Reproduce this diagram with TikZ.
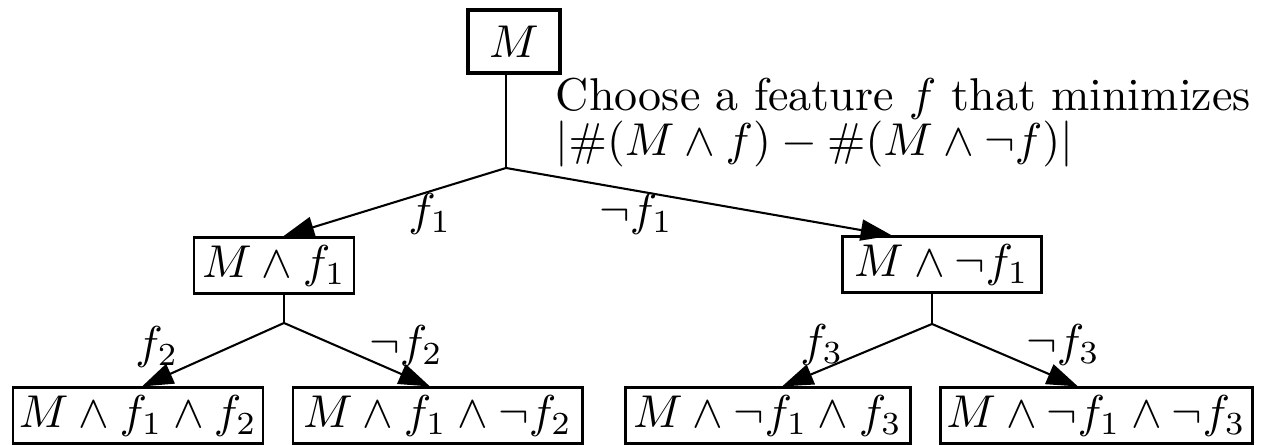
\documentclass[tikz,border=0pt]{standalone}
\usetikzlibrary{arrows.meta,calc}
\begin{document}
\begin{tikzpicture}[x=0.2174pt,y=-0.2174pt,
  box/.style={draw,line width=0.65pt,inner sep=0pt,anchor=center},
  conn/.style={line width=0.45pt},
  arr/.style={conn,-{Triangle[length=6.8pt,width=4.6pt]}},
  lbl/.style={inner sep=0pt,anchor=center}]
\useasboundingbox (0,0) rectangle (1269,445);

% tree nodes
\node[box,line width=0.9pt,minimum width=92*0.2174pt,minimum height=63*0.2174pt] (M) at (514,41.5) {$M$};
\node[box,minimum width=160*0.2174pt,minimum height=56*0.2174pt] (n1) at (274,266) {$M\wedge f_1$};
\node[box,minimum width=199*0.2174pt,minimum height=56*0.2174pt] (n2) at (941.5,265) {$M\wedge\neg f_1$};
\node[box,minimum width=250*0.2174pt,minimum height=56*0.2174pt] (n11) at (138,416) {$M\wedge f_1\wedge f_2$};
\node[box,minimum width=289*0.2174pt,minimum height=56*0.2174pt] (n12) at (437.5,416) {$M\wedge f_1\wedge\neg f_2$};
\node[box,minimum width=285*0.2174pt,minimum height=56*0.2174pt] (n21) at (767.5,416) {$M\wedge\neg f_1\wedge f_3$};
\node[box,minimum width=312*0.2174pt,minimum height=56*0.2174pt] (n22) at (1096,416) {$M\wedge\neg f_1\wedge\neg f_3$};

% branching points
\coordinate (b0) at (506,168);
\coordinate (b1) at (284,323);
\coordinate (b2) at (932,324);

% connectors
\draw[conn] (b0 |- M.south) -- (b0);
\draw[arr] (b0) -- ($(n1.north)+(9,0)$);
\draw[arr] (b0) -- ($(n2.north)+(-49.5,0)$);
\draw[conn] (b1 |- n1.south) -- (b1);
\draw[arr] (b1) -- ($(n11.north)+(4,0)$);
\draw[arr] (b1) -- ($(n12.north)+(-7.5,0)$);
\draw[conn,line width=0.6pt] (b2 |- n2.south) -- (b2);
\draw[arr] (b2) -- ($(n21.north)+(14.5,0)$);
\draw[arr] (b2) -- ($(n22.north)+(-18,0)$);

% branch labels
\node[lbl] (l1) at (430,214) {$f_1$};
\node[lbl] (l2) at (636,214) {$\neg f_1$};
\node[lbl] (l3) at (157,347) {$f_2$};
\node[lbl] (l4) at (406,346) {$\neg f_2$};
\node[lbl] (l5) at (822,345) {$f_3$};
\node[lbl] (l6) at (1063,345) {$\neg f_3$};

% selection rule, two lines in one block
\node[inner sep=0pt,anchor=north west,align=left,
      font={\fontsize{10}{9.8}\selectfont}] (rule) at (555,77)
  {Choose a feature $f$ that minimizes\\ $|\#(M\wedge f)-\#(M\wedge\neg f)|$};
\end{tikzpicture}
\end{document}
